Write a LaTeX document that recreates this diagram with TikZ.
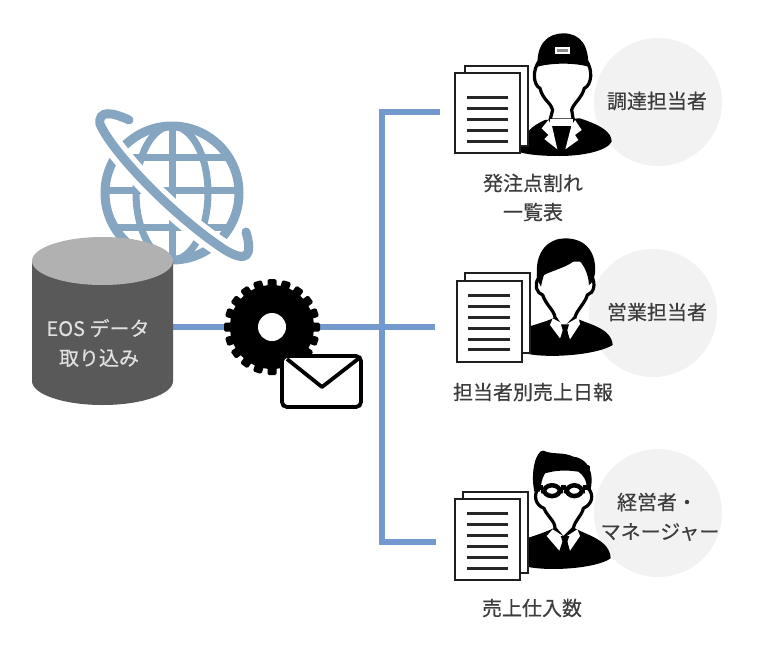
\documentclass[tikz,border=0pt]{standalone}
\usepackage{fontspec}
\setmainfont{Noto Sans CJK JP}[RawFeature={embolden=0.35}]
\definecolor{bus}{HTML}{7399CE}
\definecolor{globec}{HTML}{86A5C0}
\definecolor{cyltop}{HTML}{B1B1B1}
\definecolor{cylbody}{HTML}{595959}
\definecolor{bubble}{HTML}{F2F2F2}
\definecolor{labelc}{HTML}{3C3C3C}
\tikzset{
  x=1pt,y=-1pt,
  busline/.style={draw=bus,line width=5.5pt},
  globeline/.style={draw=globec,line width=7pt},
  label/.style={inner sep=0pt,text=labelc,font=\fontsize{20}{24}\selectfont},
  cyllabel/.style={inner sep=0pt,text=white!88!black,font=\fontsize{20}{24}\selectfont},
  bubblec/.style={fill=bubble,draw=none},
  sheet/.style={draw=black!88,line width=2.8pt,fill=white},
  rule/.style={draw=black!85,line width=3pt},
  inkfill/.style={fill=black,draw=none},
  face/.style={fill=white,draw=black,line width=3.2pt,line join=round},
  whitefill/.style={fill=white,draw=none}
}
\begin{document}
\begin{tikzpicture}
\useasboundingbox (0,0) rectangle (760,654);
\fill[white] (0,0) rectangle (760,654);

% bubbles
\fill[bubblec] (658,102) circle (64);
\fill[bubblec] (653,313) circle (64);
\fill[bubblec] (658,513) circle (64);

% anchor points
\coordinate (db) at (170,327);
\coordinate (gearc) at (272,327);
\coordinate (junction) at (382,327);
\coordinate (bustop) at (382,112);
\coordinate (busbot) at (382,542);
\coordinate (doca) at (440,112);
\coordinate (docb) at (435,327);
\coordinate (docc) at (436,542);

% connectors
\draw[busline] (db) -- (gearc);
\draw[busline] (gearc) -- (docb);
\draw[busline,line cap=butt] (doca) -- (bustop) -- (busbot) -- (docc);

% globe
\draw[globeline,line width=9pt] (172,193) circle (67);
\draw[globeline] (172,193) ellipse (36 and 67);
\draw[globeline] (172,126) -- (172,260);
\draw[globeline] (105,190) -- (239,190);
\draw[globeline] (116,157) -- (228,157);
\draw[globeline] (116,227) -- (228,227);
\draw[white,line width=20pt] (99,122) .. controls (110,150) and (170,215) .. (225,250);
\draw[globec,line width=9pt,line cap=round] (129,120) .. controls (112,112) and (98,110) .. (100,124)
   .. controls (112,152) and (172,215) .. (225,250)
   .. controls (247,263) and (253,256) .. (246,232);

% database cylinder
\fill[cylbody] (32,261) -- (32,381) arc[start angle=180,end angle=360,x radius=70.5,y radius=-24] -- (173,261) -- cycle;
\fill[cyltop] (102.5,261) ellipse (70.5 and 24);
\node[cyllabel] (dbtexta) at (98,328) {EOS データ};
\node[cyllabel] (dbtextb) at (99,358) {取り込み};

% gear
\fill[black] (gearc) circle (42);
\foreach \a in {0,18,...,342}{
  \fill[black,rotate around={\a:(gearc)},rounded corners=1.5pt] (267.5,279) rectangle (276.5,300);
}
\fill[white] (gearc) circle (14);

% envelope
\draw[draw=black,line width=3.8pt,fill=white,rounded corners=5pt] (282,356) rectangle (361,407);
\draw[black,line width=3.8pt,line join=round] (287,359) -- (322,387) -- (358,359);

% person 1
\begin{scope}[shift={(440,20)},scale=0.33333]
  \fill[inkfill] (240,397) .. controls (250,340) and (270,320) .. (315,300) -- (420,295)
     .. controls (480,315) and (515,335) .. (515,365) .. controls (500,395) and (420,408) .. (360,408)
     .. controls (310,408) and (270,405) .. (240,397) -- cycle;
  \draw[face] (300,120) .. controls (275,150) and (280,195) .. (300,205) .. controls (308,240) and (335,250) .. (338,270)
     -- (330,300) -- (400,300) -- (395,270) .. controls (400,250) and (425,235) .. (433,205)
     .. controls (455,195) and (460,150) .. (438,120) -- cycle;
  \fill[inkfill] (293,140) .. controls (288,70) and (325,40) .. (370,40) .. controls (420,40) and (447,75) .. (445,140)
     .. controls (405,128) and (335,128) .. (293,140) -- cycle;
  \fill[white] (346,80) rectangle (390,102);
  \fill[black!45] (352,86) rectangle (384,96);
  \fill[whitefill] (325,300) -- (305,325) -- (325,345) -- (313,357) -- (352,388) -- (336,318) -- cycle;
  \fill[whitefill] (405,300) -- (425,330) -- (405,345) -- (415,360) -- (376,388) -- (394,318) -- cycle;
  \fill[whitefill] (330,296) rectangle (400,318);
\end{scope}

% person 2
\begin{scope}[shift={(440,230)},scale=0.33333]
  \fill[inkfill] (265,290) .. controls (300,280) and (330,270) .. (345,262) -- (405,262)
     .. controls (430,280) and (515,290) .. (518,345) .. controls (470,375) and (330,385) .. (265,372) -- cycle;
  \draw[face] (300,90) -- (295,145) .. controls (282,165) and (290,190) .. (308,195) .. controls (318,225) and (342,240) .. (345,262)
     -- (370,300) -- (405,262) .. controls (410,240) and (435,220) .. (442,195)
     .. controls (462,190) and (468,160) .. (455,140) -- (455,90) -- cycle;
  \fill[inkfill] (292,150) .. controls (280,60) and (330,25) .. (375,25) .. controls (440,25) and (470,70) .. (465,130)
     .. controls (462,150) and (455,160) .. (447,165) .. controls (445,130) and (430,100) .. (410,85)
     .. controls (390,110) and (340,120) .. (312,135) .. controls (308,145) and (305,160) .. (303,170) -- cycle;
  \fill[whitefill] (338,265) -- (375,285) -- (360,325) -- (330,285) -- cycle;
  \fill[whitefill] (415,262) -- (375,285) -- (390,328) -- (420,282) -- cycle;
  \fill[inkfill] (363,283) -- (387,283) -- (382,300) -- (388,330) -- (375,345) -- (362,330) -- (368,300) -- cycle;
\end{scope}

% person 3
\begin{scope}[shift={(440,430)},scale=0.33333]
  \fill[inkfill] (260,325) .. controls (290,315) and (320,305) .. (340,295) -- (405,295)
     .. controls (440,315) and (510,330) .. (512,385) .. controls (470,415) and (330,425) .. (260,410) -- cycle;
  \draw[face] (300,110) -- (295,175) .. controls (280,195) and (285,225) .. (312,235) .. controls (322,260) and (345,272) .. (345,295)
     -- (370,325) -- (400,295) .. controls (405,270) and (425,258) .. (430,235)
     .. controls (458,222) and (462,195) .. (445,175) -- (445,110) -- cycle;
  \fill[inkfill] (283,185) .. controls (270,120) and (290,60) .. (310,62) .. controls (340,75) and (370,65) .. (400,80)
     .. controls (445,85) and (465,130) .. (450,185) -- (442,180) .. controls (440,150) and (430,135) .. (415,125)
     .. controls (380,120) and (350,120) .. (315,130) .. controls (305,145) and (303,165) .. (300,185) -- cycle;
  \draw[black,line width=4.5pt,fill=white,rounded corners=8pt] (310,166) rectangle (362,198);
  \draw[black,line width=4.5pt,fill=white,rounded corners=8pt] (378,166) rectangle (428,198);
  \draw[black,line width=4.5pt] (285,172) -- (310,172) (362,172) -- (378,172) (428,172) -- (448,172);
  \fill[whitefill] (338,298) -- (372,320) -- (358,362) -- (320,318) -- cycle;
  \fill[whitefill] (412,298) -- (378,320) -- (390,362) -- (420,318) -- cycle;
  \fill[inkfill] (362,318) -- (388,318) -- (382,335) -- (388,365) -- (375,380) -- (362,365) -- (368,335) -- cycle;
\end{scope}

% documents
\draw[sheet] (465,66) rectangle (528,146);
\draw[sheet] (455,73) rectangle (520,153);
\foreach \y in {97,108,119,130,141}{\draw[rule] (467,\y) -- (508,\y);}
\draw[sheet] (465,273) rectangle (530,353);
\draw[sheet] (457,281) rectangle (522,362);
\foreach \y in {295,306,317,328,339,349}{\draw[rule] (468,\y) -- (510,\y);}
\draw[sheet] (463,492) rectangle (528,573);
\draw[sheet] (455,499) rectangle (520,580);
\foreach \y in {513,524,535,546,557,568}{\draw[rule] (467,\y) -- (508,\y);}

% labels
\node[label] (la) at (657,101) {調達担当者};
\node[label] (lb) at (657,312) {営業担当者};
\node[label] (lc) at (657,502) {経営者・};
\node[label] (ld) at (660,532) {マネージャー};
\node[label] (da) at (533,183) {発注点割れ};
\node[label] (db2) at (533,212) {一覧表};
\node[label] (dc) at (533,392) {担当者別売上日報};
\node[label] (dd) at (532,608) {売上仕入数};
\end{tikzpicture}
\end{document}
